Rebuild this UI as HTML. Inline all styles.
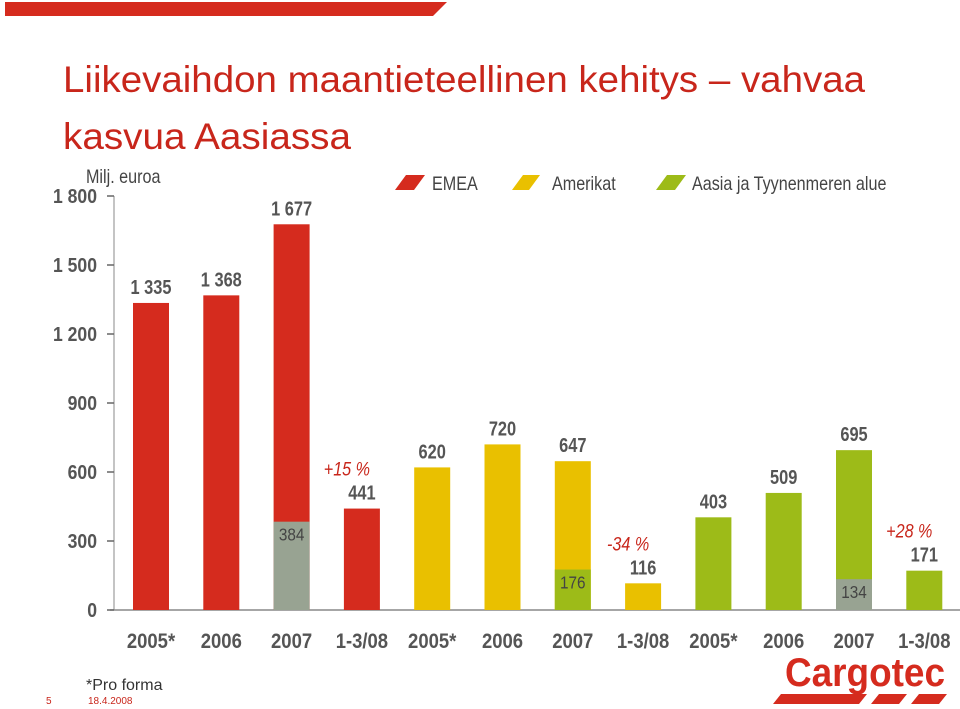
<!DOCTYPE html>
<html><head><meta charset="utf-8"><style>
body{margin:0;background:#fff;}
svg{display:block;font-family:"Liberation Sans",sans-serif;}
</style></head><body>
<svg id="c" width="960" height="709" viewBox="0 0 960 709">
<polygon points="5,2 447,2 433,16 5,16" fill="#d52b1e"/>
<text x="63" y="92" font-size="37" fill="#c8261b" textLength="802" lengthAdjust="spacingAndGlyphs">Liikevaihdon maantieteellinen kehitys – vahvaa</text>
<text x="63" y="149" font-size="37" fill="#c8261b" textLength="288" lengthAdjust="spacingAndGlyphs">kasvua Aasiassa</text>
<text x="86" y="183" font-size="19" fill="#444" transform="translate(86 0) scale(0.85 1) translate(-86 0)">Milj. euroa</text>
<g>
<polygon points="395,190 406,175 425,175 414,190" fill="#d52b1e"/>
<text x="432" y="190" font-size="19" fill="#444" transform="translate(432 0) scale(0.85 1) translate(-432 0)">EMEA</text>
<polygon points="512,190 523,175 540,175 529,190" fill="#e9c000"/>
<text x="552" y="190" font-size="19" fill="#444" transform="translate(552 0) scale(0.85 1) translate(-552 0)">Amerikat</text>
<polygon points="656,190 667,175 686,175 675,190" fill="#9dbb18"/>
<text x="692" y="190" font-size="19" fill="#444" transform="translate(692 0) scale(0.85 1) translate(-692 0)">Aasia ja Tyynenmeren alue</text>
</g>
<g id="plot"></g>
<text x="86" y="690" font-size="16" fill="#333">*Pro forma</text>
<text x="46" y="704" font-size="10" fill="#c8261b">5</text>
<text x="88" y="704" font-size="10" fill="#c8261b">18.4.2008</text>
<g>
<text x="785" y="686" font-size="40" font-weight="bold" fill="#d52b1e" textLength="160" lengthAdjust="spacingAndGlyphs">Cargotec</text>
<polygon points="773,704 781,694 867,694 859,704" fill="#d52b1e"/>
<polygon points="871,704 879,694 907,694 899,704" fill="#d52b1e"/>
<polygon points="911,704 919,694 947,694 939,704" fill="#d52b1e"/>
</g>
</svg>
<script>
const categories=["2005*","2006","2007","1-3/08","2005*","2006","2007","1-3/08","2005*","2006","2007","1-3/08"];
const totals=[1335,1368,1677,441,620,720,647,116,403,509,695,171];
const segments=[0,0,384,0,0,0,176,0,0,0,134,0];
const groupColors=["#d52b1e","#e9c000","#9dbb18"];
const segColors=["#98a392","#98a392","#98a392","#98a392","#98a392","#98a392","#9dbb18","#9dbb18","#98a392","#98a392","#98a392","#98a392"];
const yTicks=[0,300,600,900,1200,1500,1800];
const yTickLabels=["0","300","600","900","1 200","1 500","1 800"];
const valueLabels=["1 335","1 368","1 677","441","620","720","647","116","403","509","695","171"];
const changeLabels=[{i:3,t:"+15 %"},{i:7,t:"-34 %"},{i:11,t:"+28 %"}];

const NS="http://www.w3.org/2000/svg";
const plot=document.getElementById('plot');
const y=v=>610-v*(414/1800);
const x=i=>151+i*70.3;
const bw=36;
function mk(tag,attrs,txt){const e=document.createElementNS(NS,tag);for(const k in attrs)e.setAttribute(k,attrs[k]);if(txt!==undefined)e.textContent=txt;plot.appendChild(e);return e;}
let e;
e=mk('line',{x1:114,y1:y(1800),x2:114,y2:610,stroke:'#888','stroke-width':1});


e=mk('line',{x1:110,y1:610,x2:960,y2:610,stroke:'#888','stroke-width':1.5});


yTicks.forEach((v,k)=>{
 e=mk('line',{x1:107,y1:y(v),x2:114,y2:y(v),stroke:'#666','stroke-width':1.5});
 
 
 e=mk('text',{x:97,y:y(v)+7,'font-size':20,'font-weight':'bold',fill:'#555','text-anchor':'end',transform:`translate(97 0) scale(0.88 1) translate(-97 0)`},yTickLabels[k]);
 
 
});
categories.forEach((c,i)=>{
 const cx=x(i),col=groupColors[Math.floor(i/4)];
 e=mk('rect',{x:cx-bw/2,y:y(totals[i]),width:bw,height:610-y(totals[i]),fill:col});
 
 
 if(segments[i]>0){
  e=mk('rect',{x:cx-bw/2,y:y(segments[i]),width:bw,height:610-y(segments[i]),fill:segColors[i]});
  
  
  e=mk('text',{x:cx,y:y(segments[i])+19,'font-size':18,fill:'#444','text-anchor':'middle',transform:`translate(${cx} 0) scale(0.85 1) translate(${-cx} 0)`},String(segments[i]));
  
  
 }
 e=mk('text',{x:cx,y:y(totals[i])-9,'font-size':20,'font-weight':'bold',fill:'#555','text-anchor':'middle',transform:`translate(${cx} 0) scale(0.82 1) translate(${-cx} 0)`},valueLabels[i]);
 
 
 e=mk('text',{x:cx,y:648,'font-size':21,'font-weight':'bold',fill:'#555','text-anchor':'middle',transform:`translate(${cx} 0) scale(0.88 1) translate(${-cx} 0)`},c);
 
 
});
changeLabels.forEach(o=>{
 const cx=x(o.i)-15;
 e=mk('text',{x:cx,y:y(totals[o.i])-33,'font-size':19,'font-style':'italic',fill:'#c8261b','text-anchor':'middle',transform:`translate(${cx} 0) scale(0.85 1) translate(${-cx} 0)`},o.t);
 
 
});
</script>
</body></html>
